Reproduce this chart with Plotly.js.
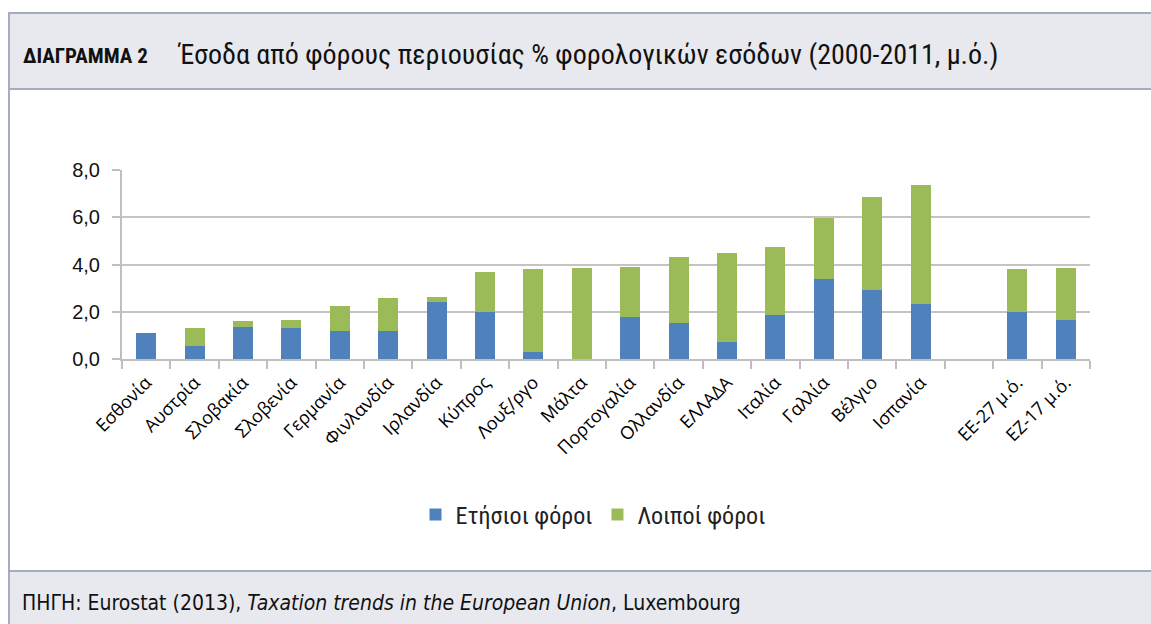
<!DOCTYPE html>
<html>
<head>
<meta charset="utf-8">
<script src="https://cdn.plot.ly/plotly-3.0.1.min.js"></script>
<style>
html,body{margin:0;padding:0;background:#fff;}
#chart{width:1151px;height:624px;}
</style>
</head>
<body>
<div id="chart"></div>
<script>
// ---- data ----
const categories = ["Εσθονία","Αυστρία","Σλοβακία","Σλοβενία","Γερμανία","Φινλανδία","Ιρλανδία","Κύπρος","Λουξ/ργο","Μάλτα","Πορτογαλία","Ολλανδία","ΕΛΛΑΔΑ","Ιταλία","Γαλλία","Βέλγιο","Ισπανία"," ","EE-27 μ.ό.","EZ-17 μ.ό."];
const annualTaxes = [1.10,0.53,1.36,1.32,1.19,1.19,2.43,2.00,0.31,0.00,1.79,1.52,0.73,1.88,3.38,2.92,2.33,null,2.01,1.63];
const otherTaxes  = [0.00,0.79,0.26,0.34,1.06,1.40,0.20,1.68,3.50,3.86,2.11,2.80,3.76,2.86,2.59,3.93,5.02,null,1.80,2.23];
const seriesNames = ["Ετήσιοι φόροι","Λοιποί φόροι"];
const yTicks = [0,2,4,6,8];

const chartTitleLabel = "ΔΙΑΓΡΑΜΜΑ 2";
const chartTitle = "Έσοδα από φόρους περιουσίας % φορολογικών εσόδων (2000-2011, μ.ό.)";
const sourceText = "ΠΗΓΗ: Eurostat (2013), <i>Taxation trends in the European Union</i>, Luxembourg";

// ---- geometry helpers ----
const W = 1151, H = 624;
const M = {l:122, r:61, t:170, b:265};
const PW = W - M.l - M.r, PH = H - M.t - M.b;
const px = x => (x - M.l) / PW;
const py = y => 1 - (y - M.t) / PH;

const condensed = "Liberation Sans Narrow, Roboto Condensed, Roboto, sans-serif";
const borderCol = "#a3adbf";
const bandCol = "#e8e9ee";

const traces = [
  {type:"bar", name:seriesNames[0], x:categories, y:annualTaxes, marker:{color:"#4f81bd"}, hoverinfo:"x+y"},
  {type:"bar", name:seriesNames[1], x:categories, y:otherTaxes, marker:{color:"#9bbb59"}, hoverinfo:"x+y"}
];

const layout = {
  width:W, height:H,
  margin:M,
  paper_bgcolor:"#fff", plot_bgcolor:"#fff",
  barmode:"stack",
  bargap:0.59,
  separators:",.",
  showlegend:true,
  legend:{orientation:"h", x:px(593), xanchor:"center", y:py(515), yanchor:"middle",
          font:{family:condensed, size:24, color:"#222"}, itemwidth:30, traceorder:"normal"},
  xaxis:{type:"category", categoryorder:"array", categoryarray:categories,
         tickson:"boundaries", ticks:"outside", ticklen:8, tickcolor:"#bfbfbf", tickwidth:2,
         showline:true, linecolor:"#bfbfbf", linewidth:2, showgrid:false,
         tickangle:-45, tickfont:{family:"Open Sans, sans-serif", size:18, color:"#000"},
         ticklabelstandoff:4,
         automargin:false, range:[-0.5, categories.length-0.5], fixedrange:true},
  yaxis:{range:[0,8], tickvals:yTicks, tickformat:".1f",
         ticks:"outside", ticklen:8, tickcolor:"#bfbfbf", tickwidth:2,
         showline:true, linecolor:"#bfbfbf", linewidth:2,
         showgrid:true, gridcolor:"#c4c4c4", gridwidth:2, zeroline:false,
         tickfont:{family:"Liberation Sans, Arial, sans-serif", size:20, color:"#111"},
         ticklabelstandoff:8, automargin:false, fixedrange:true},
  shapes:[
    {type:"rect", xref:"paper", yref:"paper", x0:px(8), x1:px(1160), y0:py(89), y1:py(13),
     fillcolor:bandCol, line:{width:0}, layer:"below"},
    {type:"rect", xref:"paper", yref:"paper", x0:px(8), x1:px(1160), y0:py(640), y1:py(571),
     fillcolor:bandCol, line:{width:0}, layer:"below"},
    {type:"line", xref:"paper", yref:"paper", x0:px(8), x1:px(1160), y0:py(13), y1:py(13), line:{color:borderCol, width:2}},
    {type:"line", xref:"paper", yref:"paper", x0:px(8), x1:px(1160), y0:py(89), y1:py(89), line:{color:borderCol, width:2}},
    {type:"line", xref:"paper", yref:"paper", x0:px(8), x1:px(1160), y0:py(571), y1:py(571), line:{color:borderCol, width:2}},
    {type:"line", xref:"paper", yref:"paper", x0:px(9), x1:px(9), y0:py(13), y1:py(640), line:{color:borderCol, width:2}}
  ],
  annotations:[
    {xref:"paper", yref:"paper", x:px(21), y:py(56), xanchor:"left", yanchor:"middle", showarrow:false,
     text:"<b>"+chartTitleLabel+"</b>", font:{family:condensed, size:21, color:"#111"}},
    {xref:"paper", yref:"paper", x:px(175), y:py(54), xanchor:"left", yanchor:"middle", showarrow:false,
     text:chartTitle, font:{family:condensed, size:28, color:"#111"}},
    {xref:"paper", yref:"paper", x:px(20), y:py(603), xanchor:"left", yanchor:"middle", showarrow:false,
     text:sourceText, font:{family:"DejaVu Sans Condensed, DejaVu Sans, sans-serif", size:21, color:"#111"}}
  ]
};

Plotly.newPlot("chart", traces, layout, {displayModeBar:false, staticPlot:true});
</script>
</body>
</html>
